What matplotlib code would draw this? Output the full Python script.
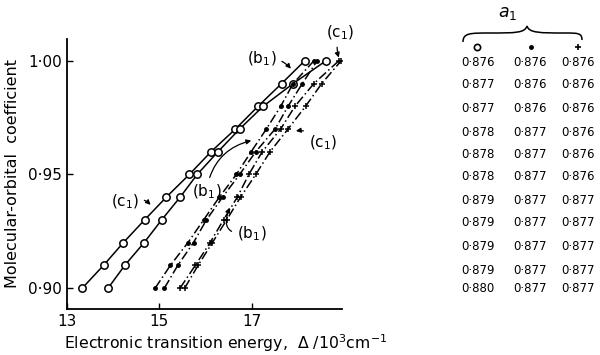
import matplotlib
matplotlib.use("Agg")
import matplotlib.pyplot as plt
from matplotlib.path import Path
from matplotlib.patches import PathPatch

# coefficient levels (same for every curve)
coeff = [0.90, 0.91, 0.92, 0.93, 0.94, 0.95, 0.96, 0.97, 0.98, 0.99, 1.00]

# transition energies, 10^3 cm^-1
circ_c1 = [13.33, 13.79, 14.22, 14.68, 15.15, 15.65, 16.12, 16.65, 17.14, 17.65, 18.15]
circ_b1 = [13.89, 14.25, 14.67, 15.05, 15.45, 15.82, 16.27, 16.74, 17.25, 17.90, 18.61]
dot_c1 = [14.91, 15.24, 15.62, 15.96, 16.30, 16.67, 16.99, 17.32, 17.63, 17.90, 18.35]
dot_b1 = [15.11, 15.40, 15.74, 16.02, 16.37, 16.74, 17.09, 17.51, 17.79, 18.10, 18.42]
plus_c1 = [15.45, 15.78, 16.10, 16.39, 16.69, 16.94, 17.23, 17.63, 17.94, 18.35, 18.89]
plus_b1 = [15.55, 15.84, 16.15, 16.46, 16.76, 17.09, 17.40, 17.79, 18.17, 18.52, 18.94]

# a1 table, top row first
a1_circ = ["0·876", "0·877", "0·877", "0·878", "0·878", "0·878",
           "0·879", "0·879", "0·879", "0·879", "0·880"]
a1_dot = ["0·876", "0·876", "0·876", "0·877", "0·877", "0·877",
          "0·877", "0·877", "0·877", "0·877", "0·877"]
a1_plus = ["0·876", "0·876", "0·876", "0·876", "0·876", "0·876",
           "0·877", "0·877", "0·877", "0·877", "0·877"]
row_px = [63, 85, 108, 132, 154, 177, 200, 223, 246, 271, 289]

fig = plt.figure(figsize=(6.0, 3.55), dpi=100)
ax = fig.add_axes([0.112, 0.130, 0.458, 0.760])

ax.plot(circ_c1, coeff, '-', color='black', lw=1.1, marker='o', ms=5.3,
        mfc='white', mec='black', mew=1.1)
ax.plot(circ_b1, coeff, '-', color='black', lw=1.1, marker='o', ms=5.3,
        mfc='white', mec='black', mew=1.1)
ax.plot(dot_c1, coeff, color='black', lw=1.1, ls=(0, (6, 2, 1, 2)),
        marker='.', ms=5)
ax.plot(dot_b1, coeff, color='black', lw=1.1, ls=(0, (6, 2, 1, 2)),
        marker='.', ms=5)
ax.plot(plus_c1, coeff, color='black', lw=1.1, ls=(0, (6, 2, 1, 2)),
        marker='+', ms=4.5, mew=1.1)
ax.plot(plus_b1, coeff, color='black', lw=1.1, ls=(0, (6, 2, 1, 2)),
        marker='+', ms=4.5, mew=1.1)

ax.set_xlim(13.0, 18.96)
ax.set_ylim(0.8908, 1.0096)
ax.set_xticks([13, 15, 17])
ax.set_xticklabels(["13", "15", "17"])
ax.set_yticks([0.90, 0.95, 1.00])
ax.set_yticklabels(["0·90", "0·95", "1·00"])
ax.tick_params(direction='in', length=4, width=1.0, labelsize=11)
for s in ['top', 'right']:
    ax.spines[s].set_visible(False)
for s in ['left', 'bottom']:
    ax.spines[s].set_linewidth(1.3)

ax.set_xlabel("Electronic transition energy,  Δ /10$^3$cm$^{-1}$", fontsize=11.3)
ax.xaxis.set_label_coords(0.575, -0.088)
ax.set_ylabel("Molecular-orbital  coefficient", fontsize=11.5, labelpad=6)

arrow = dict(arrowstyle='-|>', color='black', lw=0.9, mutation_scale=7)
ax.annotate("(b$_1$)", xy=(17.89, 0.9956), xytext=(17.22, 1.0010),
            fontsize=11, ha='center', va='center',
            arrowprops=dict(arrow, connectionstyle="arc3,rad=-0.3"))
ax.annotate("(c$_1$)", xy=(18.91, 1.0003), xytext=(18.92, 1.0125),
            fontsize=11, ha='center', va='center', annotation_clip=False,
            arrowprops=dict(arrow, connectionstyle="arc3,rad=0.2"))
ax.annotate("(c$_1$)", xy=(17.90, 0.9690), xytext=(18.55, 0.9640),
            fontsize=11, ha='center', va='center',
            arrowprops=dict(arrow, connectionstyle="arc3,rad=0.3"))
ax.annotate("(c$_1$)", xy=(14.85, 0.9357), xytext=(14.25, 0.9380),
            fontsize=11, ha='center', va='center',
            arrowprops=dict(arrow, connectionstyle="arc3,rad=-0.4"))
ax.annotate("(b$_1$)", xy=(17.05, 0.9652), xytext=(16.02, 0.9422),
            fontsize=11, ha='center', va='center',
            arrowprops=dict(arrow, connectionstyle="arc3,rad=-0.35"))
ax.annotate("(b$_1$)", xy=(16.55, 0.9365), xytext=(17.00, 0.9240),
            fontsize=11, ha='center', va='center',
            arrowprops=dict(arrow, connectionstyle="arc3,rad=-0.9"))

# right-hand a1 table, drawn in pixel coordinates
tab = fig.add_axes([0, 0, 1, 1])
tab.set_xlim(0, 600)
tab.set_ylim(355, 0)
tab.axis('off')
tab.text(508, 13, "$a_1$", fontsize=12.5, ha='center', va='center')
brace = Path([(463, 42), (463, 33), (470, 33), (490, 33),
              (515, 33), (525, 33), (527, 26),
              (529, 33), (540, 33), (565, 33),
              (578, 33), (582, 33), (582, 40)],
             [Path.MOVETO, Path.CURVE4, Path.CURVE4, Path.CURVE4,
              Path.CURVE4, Path.CURVE4, Path.CURVE4,
              Path.CURVE4, Path.CURVE4, Path.CURVE4,
              Path.CURVE4, Path.CURVE4, Path.CURVE4])
tab.add_patch(PathPatch(brace, fill=False, lw=1.1, color='black'))
tab.plot([477], [47], 'o', ms=4.5, mfc='white', mec='black', mew=1.2)
tab.plot([531], [47], '.', ms=5, color='black')
tab.plot([578], [47], '+', ms=5, mew=1.2, color='black')
for i, y in enumerate(row_px):
    tab.text(478, y, a1_circ[i], fontsize=8.5, ha='center', va='center')
    tab.text(530, y, a1_dot[i], fontsize=8.5, ha='center', va='center')
    tab.text(578, y, a1_plus[i], fontsize=8.5, ha='center', va='center')

fig.savefig("out.png", dpi=100)
